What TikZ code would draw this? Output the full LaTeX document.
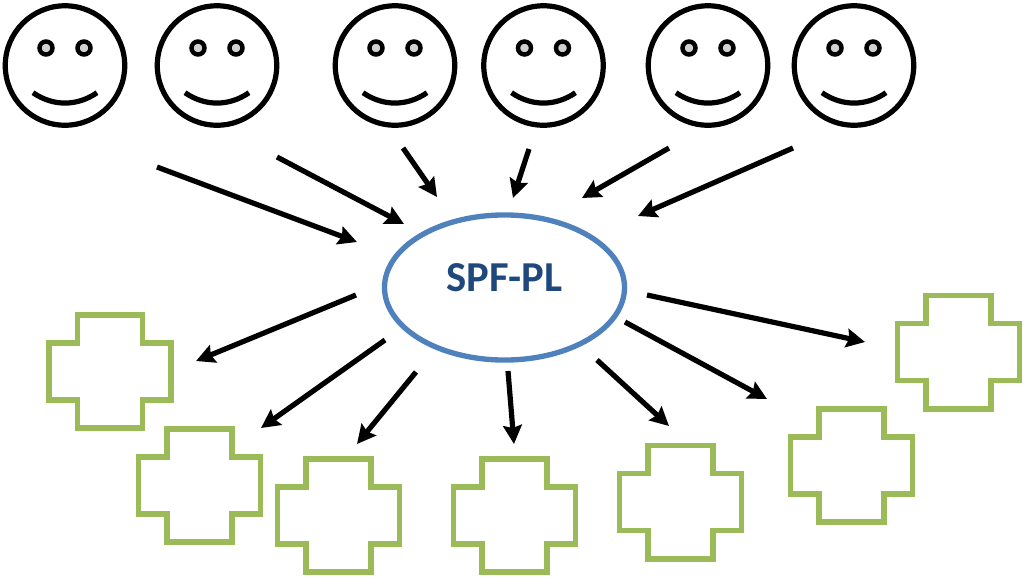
\documentclass[tikz,border=0pt]{standalone}
\usepackage{fontspec}
\setmainfont{Carlito}
\usetikzlibrary{arrows.meta,shapes.geometric}
\definecolor{crossgreen}{HTML}{9BBB59}
\definecolor{ellblue}{HTML}{4F81BD}
\definecolor{txtblue}{HTML}{1F497D}
\tikzset{
  faceline/.style={draw=black,line width=3.9pt},
  eyeball/.style={circle,draw=black,fill=black!18,line width=3.3pt,minimum size=9.8pt,inner sep=0pt},
  arrowline/.style={draw=black,line width=3.9pt,-{Stealth[length=14pt,width=14pt,inset=2pt]}},
  crossline/.style={draw=crossgreen,line width=4.2pt,miter limit=10},
}
\newcommand{\smileyface}[2]{%
  \node[circle,faceline,minimum size=89.6pt,inner sep=0pt] (face#1) at (#2,65.5) {};
  \node[eyeball] (eyeL#1) at (#2-19,48) {};
  \node[eyeball] (eyeR#1) at (#2+19,48) {};
  \draw[faceline] (#2-32,92.7) .. controls (#2-12,106.5) and (#2+12,106.5) .. (#2+32,92.7);
}
\newcommand{\crossshape}[3]{%
  \draw[crossline] (#2-32.5,#3-56.7) -- (#2+32.5,#3-56.7) -- (#2+32.5,#3-28.5) -- (#2+61,#3-28.5)
    -- (#2+61,#3+28.5) -- (#2+32.5,#3+28.5) -- (#2+32.5,#3+56.7) -- (#2-32.5,#3+56.7)
    -- (#2-32.5,#3+28.5) -- (#2-61,#3+28.5) -- (#2-61,#3-28.5) -- (#2-32.5,#3-28.5) -- cycle;
}
\newcommand{\arrowpair}[5]{%
  \coordinate (a#1) at (#2,#3);
  \coordinate (b#1) at (#4,#5);
  \draw[arrowline] (a#1) -- (b#1);
}
\begin{document}
\begin{tikzpicture}[x=0.75pt,y=-0.75pt]
\useasboundingbox (0,0) rectangle (1024,576);
\smileyface{1}{65}
\smileyface{2}{217}
\smileyface{3}{395}
\smileyface{4}{543.5}
\smileyface{5}{708}
\smileyface{6}{854}
\crossshape{1}{110}{371.5}
\crossshape{2}{199.5}{485.5}
\crossshape{3}{338.5}{515.5}
\crossshape{4}{514.5}{515.5}
\crossshape{5}{680.5}{502}
\crossshape{6}{851.5}{465.5}
\crossshape{7}{958.5}{352}
\node[ellipse,draw=ellblue,line width=4pt,minimum width=180pt,minimum height=108.8pt,inner sep=0pt] (hub) at (504.5,287.5) {};
\node[text=txtblue,font=\fontsize{32}{36}\selectfont\bfseries,inner sep=0pt] (hublabel) at (504.5,278) {SPF-PL};
\arrowpair{1}{157}{167}{357}{242}
\arrowpair{2}{277}{157}{404}{224}
\arrowpair{3}{403}{148}{437}{197}
\arrowpair{4}{529}{149}{513}{198}
\arrowpair{5}{669}{148}{582}{198}
\arrowpair{6}{793}{148}{638}{216}
\arrowpair{7}{356}{295}{196}{361}
\arrowpair{8}{385}{340}{261}{428}
\arrowpair{9}{416}{372}{357}{444}
\arrowpair{10}{508}{371}{514}{444}
\arrowpair{11}{597}{360}{669}{426}
\arrowpair{12}{625}{322}{767}{399}
\arrowpair{13}{647}{295}{865}{342}
\end{tikzpicture}
\end{document}
